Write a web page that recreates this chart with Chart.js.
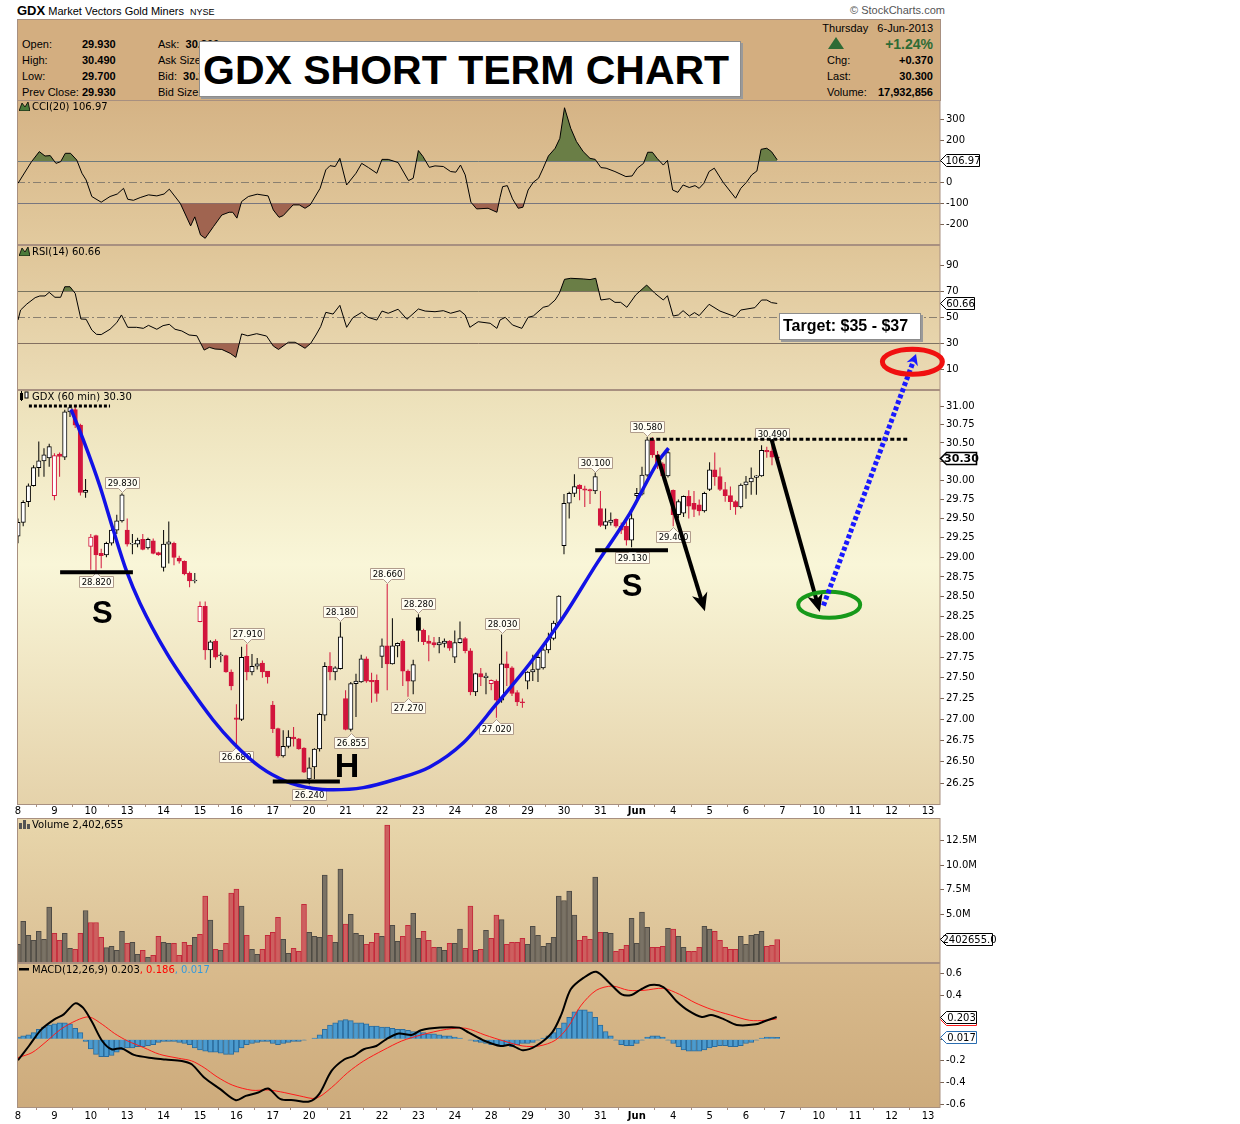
<!DOCTYPE html>
<html>
<head>
<meta charset="utf-8">
<title>GDX short term chart</title>
<script src="https://cdn.jsdelivr.net/npm/chart.js@4.4.1/dist/chart.umd.min.js"></script>
<style>
  body { margin: 0; width: 1240px; height: 1124px; position: relative; overflow: hidden; background: #fff; font-family: "Liberation Sans", Arial, sans-serif; }
  canvas { position: absolute; left: 0; }
  .t { position: absolute; white-space: nowrap; line-height: 13px; font-size: 11px; color: #000; }
  .b { font-weight: bold; }
  .rt { text-align: right; }
  .pl { position: absolute; left: 19px; font: 10px "DejaVu Sans", sans-serif; line-height: 12px; white-space: nowrap; }
  .pl svg { vertical-align: -1px; margin-right: 2px; }
  #hdr { position: absolute; left: 17px; top: 19px; width: 924px; height: 82px; box-sizing: border-box; background: #d3ae80; border: 1px solid #a89080; }
  .box { position: absolute; box-sizing: border-box; background: #fff; border: 1px solid #8c8c8c; box-shadow: 2px 2px 0 #9a9a9a; }
</style>
</head>
<body>
<div class="t" style="left:17px;top:4px;"><span class="b" style="font-size:13px">GDX</span> Market Vectors Gold Miners&nbsp; <span style="font-size:9px">NYSE</span></div>
<div class="t" style="left:850px;top:4px;color:#555">© StockCharts.com</div>
<div id="hdr"></div>

<canvas id="cci" width="1000" height="145" style="top:100px"></canvas>
<canvas id="rsi" width="1000" height="145" style="top:245px"></canvas>
<canvas id="price" width="1000" height="488" style="top:330px"></canvas>
<canvas id="vol" width="1000" height="145" style="top:818px"></canvas>
<canvas id="macd" width="1000" height="161" style="top:963px"></canvas>

<div class="t" style="left:22px;top:38px">Open:</div><div class="t b" style="left:82px;top:38px">29.930</div>
<div class="t" style="left:22px;top:54px">High:</div><div class="t b" style="left:82px;top:54px">30.490</div>
<div class="t" style="left:22px;top:70px">Low:</div><div class="t b" style="left:82px;top:70px">29.700</div>
<div class="t" style="left:22px;top:86px">Prev Close:</div><div class="t b" style="left:82px;top:86px">29.930</div>
<div class="t" style="left:158px;top:38px">Ask:&nbsp; <b>30.300</b></div>
<div class="t" style="left:158px;top:54px">Ask Size:</div>
<div class="t" style="left:158px;top:70px">Bid:&nbsp; <b>30.290</b></div>
<div class="t" style="left:158px;top:86px">Bid Size:</div>

<div class="t rt" style="left:780px;width:153px;top:22px">Thursday&nbsp;&nbsp; 6-Jun-2013</div>
<svg style="position:absolute;left:828px;top:37px" width="16" height="12"><polygon points="0,12 8,0 16,12" fill="#2e6b35"/></svg>
<div class="t rt b" style="left:800px;width:133px;top:37px;font-size:14px;line-height:15px;color:#2e6b35">+1.24%</div>
<div class="t" style="left:827px;top:54px">Chg:</div><div class="t rt b" style="left:850px;width:83px;top:54px">+0.370</div>
<div class="t" style="left:827px;top:70px">Last:</div><div class="t rt b" style="left:850px;width:83px;top:70px">30.300</div>
<div class="t" style="left:827px;top:86px">Volume:</div><div class="t rt b" style="left:850px;width:83px;top:86px">17,932,856</div>

<div class="box" style="left:199px;top:41px;width:542px;height:56px">
  <div style="position:absolute;left:3px;top:8px;font:bold 41px/41px 'Liberation Sans',Arial,sans-serif;white-space:nowrap">GDX SHORT TERM CHART</div>
</div>

<div class="pl" style="top:101px"><svg width="11" height="10"><polygon points="0,10 3,2 6,6 9,1 11,10" fill="#4a7a3a" stroke="#000" stroke-width="0.8"/></svg>CCI(20) 106.97</div>
<div class="pl" style="top:246px"><svg width="11" height="10"><polygon points="0,10 3,2 6,6 9,1 11,10" fill="#4a7a3a" stroke="#000" stroke-width="0.8"/></svg>RSI(14) 60.66</div>
<div class="pl" style="top:391px"><svg width="11" height="10"><rect x="1" y="2" width="3" height="7" fill="#000"/><rect x="6" y="1" width="3" height="6" fill="#fff" stroke="#000" stroke-width="1"/><line x1="2.5" y1="0" x2="2.5" y2="10" stroke="#000"/></svg>GDX (60 min) 30.30</div>
<div class="pl" style="top:819px"><svg width="11" height="10"><rect x="0" y="4" width="3" height="6" fill="#555"/><rect x="4" y="1" width="3" height="9" fill="#555"/><rect x="8" y="5" width="3" height="5" fill="#555"/></svg>Volume 2,402,655</div>
<div class="pl" style="top:964px"><svg width="11" height="10"><rect x="0" y="4" width="10" height="2.5" fill="#000"/></svg>MACD(12,26,9) 0.203<span style="color:#f00">, 0.186</span><span style="color:#3399dd">, 0.017</span></div>

<div class="box" style="left:779px;top:313px;width:142px;height:27px">
  <div style="position:absolute;left:3px;top:4px;font:bold 16px/16px 'Liberation Sans',Arial,sans-serif;white-space:nowrap">Target: $35 - $37</div>
</div>

<script>
// --- data (60 minute bars, 8 May - 6 Jun 2013) ---
const dayLabels = ['8', '9', '10', '13', '14', '15', '16', '17', '20', '21', '22', '23', '24',
  '28', '29', '30', '31', 'Jun', '4', '5', '6', '7', '10', '11', '12', '13'];

const opens = [
  29.27, 29.45, 29.72, 29.93, 30.17, 30.26, 30.30,
  29.80, 30.35, 30.31, 30.92, 30.95, 30.74, 29.84,
  29.14, 29.28, 29.05, 29.03, 29.18, 29.35, 29.47,
  29.35, 29.17, 29.17, 29.23, 29.12, 29.21, 29.06,
  28.87, 29.17, 29.18, 28.99, 28.95, 28.80, 28.70,
  28.19, 28.38, 27.84, 27.95, 27.77, 27.77, 27.57,
  27.02, 27.00, 27.76, 27.57, 27.64, 27.68, 27.58,
  27.17, 26.89, 26.57, 26.68, 26.79, 26.77, 26.66,
  26.30, 26.44, 26.65, 27.05, 27.64, 27.57, 27.61,
  27.25, 26.88, 27.43, 27.45, 27.73, 27.47, 27.47,
  27.76, 27.89, 27.67, 27.89, 27.95, 27.58, 27.46,
  28.24, 28.08, 27.95, 27.93, 27.90, 27.92, 27.95,
  27.75, 27.93, 27.98, 27.83, 27.33, 27.55, 27.50,
  27.43, 27.46, 27.23, 27.67, 27.62, 27.32, 27.21,
  27.46, 27.57, 27.60, 27.62, 27.84, 27.98, 28.17,
  29.15, 29.70, 29.83, 29.94, 29.89, 29.88, 29.86,
  29.63, 29.41, 29.45, 29.49, 29.40, 29.40, 29.22,
  29.80, 29.82, 30.07, 30.54, 30.34, 30.22, 30.06,
  29.87, 29.55, 29.57, 29.79, 29.70, 29.68, 29.60,
  29.88, 30.14, 30.05, 29.88, 29.80, 29.72, 29.65,
  29.94, 29.98, 30.04, 30.06, 30.40, 30.39, 30.31];
const highs = [
  29.50, 29.74, 29.96, 30.20, 30.52, 30.43, 30.49,
  30.36, 30.37, 30.95, 31.00, 31.00, 30.76, 30.02,
  29.30, 29.29, 29.11, 29.20, 29.40, 29.55, 29.83,
  29.50, 29.30, 29.25, 29.30, 29.25, 29.24, 29.07,
  29.35, 29.46, 29.20, 29.02, 28.96, 28.82, 28.80,
  28.44, 28.44, 27.96, 27.97, 27.81, 27.78, 27.60,
  27.18, 27.88, 27.91, 27.79, 27.74, 27.71, 27.58,
  27.22, 26.90, 26.87, 26.87, 26.91, 26.78, 26.67,
  26.55, 26.66, 27.08, 27.69, 27.81, 27.64, 28.18,
  27.35, 27.45, 27.55, 27.78, 27.76, 27.56, 27.54,
  27.98, 28.66, 28.23, 27.93, 27.97, 27.60, 27.72,
  28.28, 28.10, 28.02, 28.00, 28.00, 27.98, 27.96,
  28.08, 28.19, 28.00, 27.86, 27.56, 27.62, 27.56,
  27.48, 27.48, 28.03, 27.82, 27.64, 27.35, 27.25,
  27.58, 27.78, 27.82, 27.86, 28.05, 28.20, 28.52,
  29.82, 29.85, 30.08, 29.95, 29.93, 29.89, 30.10,
  29.86, 29.63, 29.58, 29.50, 29.45, 29.46, 29.63,
  29.90, 30.18, 30.58, 30.58, 30.39, 30.24, 30.40,
  29.88, 29.75, 29.80, 29.87, 29.86, 29.75, 29.85,
  30.24, 30.37, 30.17, 29.98, 29.92, 29.74, 29.96,
  30.06, 30.17, 30.07, 30.47, 30.45, 30.49, 30.33];
const lows = [
  29.18, 29.40, 29.65, 29.92, 30.05, 30.05, 30.18,
  29.74, 30.05, 30.27, 30.85, 30.70, 29.80, 29.77,
  28.84, 28.82, 28.86, 29.00, 29.15, 29.30, 29.45,
  29.14, 29.04, 29.13, 29.09, 29.10, 29.04, 29.02,
  28.82, 28.92, 28.90, 28.92, 28.77, 28.62, 28.67,
  28.18, 27.72, 27.62, 27.72, 27.69, 27.56, 27.35,
  26.68, 26.98, 27.47, 27.53, 27.60, 27.50, 27.43,
  26.84, 26.55, 26.55, 26.66, 26.68, 26.64, 26.37,
  26.24, 26.30, 26.62, 26.98, 27.47, 27.47, 27.60,
  26.87, 26.855, 27.03, 27.44, 27.44, 27.20, 27.21,
  27.62, 27.35, 27.66, 27.75, 27.40, 27.27, 27.30,
  27.94, 27.90, 27.70, 27.87, 27.80, 27.87, 27.83,
  27.68, 27.92, 27.80, 27.29, 27.28, 27.40, 27.30,
  27.35, 27.02, 27.20, 27.40, 27.28, 27.16, 27.14,
  27.36, 27.46, 27.45, 27.60, 27.80, 27.96, 28.15,
  29.04, 29.50, 29.78, 29.74, 29.65, 29.69, 29.82,
  29.39, 29.36, 29.41, 29.38, 29.30, 29.15, 29.13,
  29.74, 29.80, 30.05, 30.30, 30.15, 30.04, 30.04,
  29.40, 29.50, 29.52, 29.50, 29.52, 29.54, 29.58,
  29.86, 29.93, 29.86, 29.72, 29.61, 29.55, 29.63,
  29.76, 29.81, 29.81, 30.05, 30.30, 30.20, 30.25];
const closes = [
  29.45, 29.71, 29.93, 30.17, 30.26, 30.34, 30.45,
  30.33, 30.32, 30.92, 30.98, 30.74, 29.84, 29.87,
  29.26, 29.03, 29.02, 29.18, 29.35, 29.47, 29.81,
  29.17, 29.18, 29.22, 29.10, 29.23, 29.05, 29.03,
  29.17, 29.20, 29.00, 28.95, 28.79, 28.70, 28.71,
  28.38, 27.84, 27.94, 27.75, 27.78, 27.57, 27.40,
  27.00, 27.75, 27.57, 27.64, 27.67, 27.57, 27.51,
  26.89, 26.57, 26.68, 26.79, 26.77, 26.65, 26.38,
  26.43, 26.65, 27.06, 27.64, 27.57, 27.62, 28.00,
  26.88, 27.43, 27.46, 27.73, 27.46, 27.45, 27.31,
  27.89, 27.67, 27.89, 27.92, 27.58, 27.46, 27.66,
  28.08, 27.94, 27.92, 27.90, 27.93, 27.95, 27.86,
  27.93, 27.98, 27.83, 27.33, 27.55, 27.51, 27.52,
  27.47, 27.23, 27.67, 27.62, 27.31, 27.21, 27.20,
  27.57, 27.60, 27.75, 27.84, 27.98, 28.17, 28.51,
  29.70, 29.83, 29.92, 29.89, 29.87, 29.86, 30.05,
  29.41, 29.46, 29.48, 29.40, 29.35, 29.22, 29.50,
  29.83, 30.07, 30.54, 30.34, 30.20, 30.06, 30.37,
  29.55, 29.72, 29.79, 29.66, 29.62, 29.60, 29.83,
  30.14, 30.05, 29.88, 29.80, 29.72, 29.65, 29.94,
  29.98, 30.03, 30.06, 30.40, 30.38, 30.31, 30.30];

// volume in millions of shares
const volumes = [
  1.91, 4.26, 2.83, 2.32, 3.24, 2.42, 5.70,
  3.04, 2.32, 3.04, 1.50, 1.40, 3.04, 5.36,
  4.13, 4.13, 2.63, 1.57, 1.71, 1.30, 3.24,
  2.01, 2.12, 0.89, 1.30, 0.58, 0.79, 2.73,
  2.12, 2.01, 2.01, 0.79, 2.12, 1.81, 2.63,
  2.93, 6.82, 4.37, 1.40, 1.30, 2.01, 7.13,
  7.54, 5.80, 2.83, 1.40, 0.89, 1.40, 2.83,
  3.14, 4.67, 2.42, 0.99, 1.50, 1.20, 6.00,
  3.14, 2.73, 2.63, 8.97, 2.83, 2.12, 9.58,
  3.96, 4.98, 3.04, 2.83, 1.91, 2.12, 3.04,
  2.73, 14.08, 3.85, 2.22, 2.73, 3.85, 5.08,
  2.53, 3.24, 2.32, 1.60, 1.60, 1.30, 2.01,
  2.01, 3.45, 1.50, 5.80, 1.30, 1.40, 3.34,
  2.53, 4.88, 4.43, 1.91, 2.12, 2.12, 2.53,
  1.91, 3.75, 2.83, 1.71, 2.01, 2.63, 6.82,
  6.38, 7.33, 4.88, 2.32, 2.73, 2.42, 8.76,
  3.14, 3.14, 3.04, 1.20, 1.40, 1.81, 4.57,
  2.01, 5.19, 3.65, 1.60, 1.60, 1.71, 3.55,
  3.45, 2.73, 1.60, 1.20, 1.20, 1.60, 3.75,
  3.45, 3.24, 2.32, 1.60, 1.40, 1.40, 2.73,
  1.91, 2.83, 2.93, 3.24, 1.71, 1.81, 2.402655];

// indicator lines: [bar index, value]
const cciPts = [[0, -5], [2.6, 98], [4.1, 146], [5.2, 125], [6.2, 127], [7.3, 90], [8.2, 98], [9.1, 138],
  [10.1, 138], [11.3, 106], [12.3, 43], [13.1, 11], [14.2, -68], [16.0, -95], [17.7, -68], [19.1, -56],
  [20.3, -29], [21.1, -81], [22.2, -86], [23.5, -73], [25.1, -60], [26.7, -65], [28.1, -56], [29.1, -33],
  [31.2, -100], [33.2, -208], [34.0, -165], [35.1, -251], [36.0, -267], [37.6, -211], [39.2, -156],
  [40.6, -143], [41.3, -143], [42.1, -171], [43.0, -92], [44.3, -68], [46.0, -57], [48.1, -65], [49.1, -132],
  [50.2, -167], [51.0, -159], [52.9, -108], [54.1, -108], [55.2, -124], [56.2, -108], [58.1, -29], [59.2, 59],
  [60.0, 79], [61.0, 75], [61.9, 114], [63.2, -13], [65.0, 43], [66.1, 90], [67.4, 70], [69.0, 43],
  [70.0, 109], [71.2, 109], [73.1, 94], [75.1, 8], [76.0, 19], [77.0, 151], [77.9, 122], [79.1, 71],
  [80.2, 78], [81.8, 75], [83.2, 51], [84.2, 48], [85.1, 82], [86.0, 35], [87.1, -95], [88.2, -127],
  [90.4, -124], [92.1, -143], [92.7, -72], [93.2, -21], [94.1, -16], [95.1, -79], [96.2, -124], [97.1, -119],
  [98.1, -37], [99.1, 0], [100.1, 19], [101.0, 67], [102.0, 125], [103.3, 162], [104.2, 209], [105.1, 355],
  [106.3, 257], [107.4, 194], [108.7, 146], [110.0, 114], [111.0, 109], [112.1, 70], [113.1, 67],
  [114.8, 51], [116.9, 27], [118.1, 30], [119.1, 67], [120.3, 90], [121.1, 143], [122.0, 143], [122.9, 114],
  [124.1, 82], [124.9, 104], [125.9, -37], [126.9, -48], [127.9, -13], [129.1, -25], [130.2, -16],
  [131.0, -29], [131.9, -5], [132.9, 51], [133.9, 67], [135.6, 0], [138.0, -76], [139.0, -29], [140.1, 0],
  [141.1, 35], [142.1, 54], [142.9, 157], [144.0, 162], [144.9, 146], [146.0, 106.97]];

const rsiPts = [[0, 47.9], [0.5, 55.6], [1.7, 60.2], [3.3, 65.1], [4.2, 66.4], [5.2, 66.4], [6.0, 69.2],
  [7.1, 65.4], [8.2, 65.4], [9.0, 73.5], [10.0, 73.5], [11.0, 68.4], [12.1, 48.7], [13.1, 48.5], [14.2, 40.2],
  [15.1, 36.9], [16.0, 36.7], [17.7, 40.8], [19.0, 45.9], [19.9, 51.8], [21.1, 42.3], [22.8, 42.3],
  [24.1, 41.5], [25.1, 43.8], [26.7, 40.8], [27.9, 43.6], [29.1, 44.6], [30.2, 40.8], [31.5, 39.5],
  [32.9, 36.4], [34.4, 35.8], [35.8, 24.8], [36.8, 26.9], [37.9, 25.6], [39.2, 25.3], [40.8, 22.3],
  [41.9, 19.2], [43.0, 37.2], [44.2, 35.8], [45.9, 37.4], [47.8, 35.6], [49.1, 27.9], [50.1, 25.3],
  [52.0, 30.8], [53.3, 30.8], [55.2, 26.2], [56.3, 30.0], [57.3, 36.4], [58.2, 42.8], [59.2, 53.8],
  [60.6, 52.5], [61.9, 59.2], [63.2, 42.3], [64.4, 49.7], [66.1, 53.8], [67.3, 50.0], [69.0, 47.9],
  [70.0, 54.8], [71.2, 53.1], [73.1, 56.2], [74.8, 48.5], [77.0, 56.4], [78.3, 54.8], [80.2, 54.3],
  [81.8, 55.1], [83.2, 53.1], [85.0, 55.1], [86.0, 51.8], [86.9, 42.3], [88.5, 46.6], [90.8, 45.4],
  [92.1, 41.5], [92.7, 47.9], [93.7, 50.0], [95.1, 44.1], [96.9, 41.5], [98.1, 50.0], [99.1, 51.0],
  [101.0, 57.7], [102.0, 58.7], [103.3, 63.3], [104.1, 68.4], [105.1, 79.2], [106.3, 80.0], [108.7, 79.5],
  [110.0, 79.0], [111.1, 80.0], [112.1, 63.3], [113.8, 64.3], [114.8, 61.5], [115.9, 61.5], [117.1, 57.7],
  [118.8, 67.2], [120.9, 74.8], [122.5, 68.4], [124.1, 63.3], [124.9, 66.6], [126.0, 51.0], [127.0, 51.8],
  [127.9, 55.1], [129.1, 51.0], [130.1, 53.6], [131.0, 51.3], [132.9, 60.0], [135.0, 54.8], [137.9, 50.5],
  [139.0, 55.6], [141.7, 57.4], [143.0, 63.3], [144.0, 63.3], [144.9, 61.3], [146.0, 60.66]];

const macdPts = [[0, -0.194], [2.1, -0.063], [4.5, 0.090], [7.0, 0.182], [8.8, 0.228], [11.0, 0.329],
  [12.5, 0.289], [14.3, 0.152], [16.2, -0.017], [18.0, -0.093], [19.9, -0.084], [22.3, -0.145],
  [26.0, -0.176], [28.4, -0.188], [31.5, -0.200], [33.4, -0.231], [35.8, -0.353], [38.9, -0.460],
  [41.9, -0.561], [43.8, -0.522], [46.2, -0.491], [48.1, -0.454], [50.5, -0.552], [53.0, -0.561],
  [56.0, -0.574], [57.9, -0.506], [60.3, -0.292], [62.8, -0.185], [64.6, -0.154], [66.5, -0.093],
  [68.9, -0.063], [70.8, -0.001], [73.2, 0.051], [75.7, 0.038], [77.5, 0.081], [81.2, 0.106], [84.9, 0.106],
  [86.7, 0.060], [89.8, -0.017], [92.8, -0.063], [94.7, -0.053], [97.1, -0.102], [99.6, -0.063],
  [102.7, 0.060], [104.5, 0.228], [106.3, 0.458], [108.8, 0.565], [111.2, 0.620], [113.7, 0.519],
  [116.1, 0.412], [118.0, 0.406], [119.8, 0.458], [121.7, 0.498], [124.1, 0.479], [126.6, 0.351],
  [129.0, 0.259], [131.5, 0.204], [133.3, 0.222], [135.8, 0.182], [138.2, 0.130], [141.9, 0.136],
  [143.7, 0.167], [145.9, 0.203]];

const signalPts = [[0, -0.170], [2.7, -0.124], [5.2, -0.032], [8.2, 0.090], [11.3, 0.173], [13.7, 0.204],
  [16.2, 0.136], [18.6, 0.051], [21.1, -0.017], [24.2, -0.078], [27.2, -0.139], [30.9, -0.176],
  [33.4, -0.200], [35.8, -0.262], [38.3, -0.347], [41.3, -0.424], [45.0, -0.470], [48.1, -0.467],
  [51.2, -0.491], [54.2, -0.522], [57.3, -0.543], [60.3, -0.445], [63.4, -0.308], [66.5, -0.200],
  [70.2, -0.102], [73.8, -0.017], [77.5, 0.038], [82.4, 0.090], [86.1, 0.100], [89.8, 0.038], [93.4, -0.017],
  [97.1, -0.063], [100.2, -0.063], [103.3, -0.011], [105.7, 0.106], [108.2, 0.305], [111.2, 0.449],
  [114.3, 0.488], [117.4, 0.449], [120.4, 0.449], [124.1, 0.467], [127.2, 0.412], [130.2, 0.335],
  [133.3, 0.274], [137.0, 0.222], [140.7, 0.173], [143.7, 0.173], [145.9, 0.186]];

const histVals = [
  0.02, 0.03, 0.04, 0.06, 0.09, 0.11, 0.13,
  0.14, 0.15, 0.15, 0.14, 0.10, 0.06, -0.02,
  -0.09, -0.14, -0.16, -0.16, -0.15, -0.12, -0.10,
  -0.08, -0.08, -0.07, -0.07, -0.06, -0.05, -0.03,
  -0.02, -0.02, -0.02, -0.03, -0.04, -0.05, -0.08,
  -0.10, -0.11, -0.12, -0.12, -0.13, -0.14, -0.14,
  -0.12, -0.08, -0.05, -0.04, -0.03, -0.02, -0.02,
  -0.04, -0.05, -0.04, -0.03, -0.02, -0.02, -0.01,
  0.00, 0.01, 0.04, 0.09, 0.13, 0.15, 0.17,
  0.18, 0.17, 0.15, 0.15, 0.14, 0.12, 0.12,
  0.11, 0.11, 0.10, 0.09, 0.09, 0.08, 0.07,
  0.07, 0.06, 0.05, 0.05, 0.04, 0.03, 0.03,
  0.02, 0.01, 0.00, -0.01, -0.02, -0.03, -0.04,
  -0.05, -0.05, -0.06, -0.06, -0.07, -0.05, -0.04,
  -0.04, -0.03, -0.01, 0.01, 0.03, 0.06, 0.10,
  0.15, 0.20, 0.25, 0.27, 0.27, 0.25, 0.20,
  0.13, 0.07, 0.03, -0.01, -0.05, -0.06, -0.06,
  -0.04, -0.01, 0.02, 0.03, 0.03, 0.02, -0.01,
  -0.04, -0.07, -0.10, -0.11, -0.11, -0.11, -0.10,
  -0.08, -0.07, -0.06, -0.06, -0.07, -0.07, -0.06,
  -0.04, -0.03, -0.01, 0.01, 0.02, 0.02, 0.017];

const lastSignal = 0.186;

// axis tick values
const priceTicks = [31.00, 30.75, 30.50, 30.25, 30.00, 29.75, 29.50, 29.25, 29.00, 28.75, 28.50,
  28.25, 28.00, 27.75, 27.50, 27.25, 27.00, 26.75, 26.50, 26.25];
const cciTicks = [300, 200, 100, 0, -100, -200];
const rsiTicks = [90, 70, 50, 30, 10];
const volTicks = [12.5, 10, 7.5, 5, 2.5];
const macdTicks = [0.6, 0.4, 0.2, 0, -0.2, -0.4, -0.6];

// hand drawn markup, in [bar index, price]
const hiLoLabels = [[20, 1], [15, -1], [44, 1], [42, -1], [56, -1], [62, 1], [64, -1], [71, 1], [77, 1],
  [75, -1], [93, 1], [92, -1], [111, 1], [118, -1], [121, 1], [126, -1], [145, 1]];
const cupCurve = [[10.2, 30.955], [12.56, 30.54], [15.77, 29.92], [18.33, 29.35], [20.9, 28.82],
  [23.46, 28.42], [28.6, 27.80], [32.44, 27.43], [37.56, 26.99], [41.4, 26.72], [46.54, 26.44],
  [51.67, 26.27], [56.79, 26.19], [60.63, 26.175], [66.4, 26.20], [72.8, 26.30], [79.2, 26.44],
  [85.6, 26.72], [92.1, 27.19], [98.5, 27.68], [104.9, 28.25], [111.3, 28.92], [117.7, 29.57],
  [123.1, 30.25], [125.1, 30.43]];
const necklines = [[8.1, 22.1, 28.81], [49.0, 61.9, 26.27], [111.0, 125.0, 29.09]];
const letters = [['S', 16.2, 28.28, 31], ['H', 63.3, 26.43, 34], ['S', 118.1, 28.62, 31]];
const peakLine = [2.1, 17.7, 31.0];
const resistLine = [121.5, 171.0, 30.55];
const downArrows = [[122.9, 30.34, 132.1, 28.32], [144.9, 30.55, 154.2, 28.31]];
const upArrow = [154.9, 28.39, 172.7, 31.72];
const supportRing = [156.0, 28.40];
const targetRing = [172.0, 31.61];

// --- drawing ---
const XMIN = -0.19, XMAX = 177.31;
const RED = '#d2143c';
const GREEN_FILL = 'rgb(106,126,70)';
const BROWN_FILL = 'rgb(160,100,80)';
const BORDER = '#a89080';
const dayStarts = dayLabels.map((_, k) => k * 7);

const candleLine = closes.map((c, i) => (i > 0 && c < closes[i - 1]) ? RED : '#000');
const candleFill = closes.map((c, i) => c >= opens[i] ? '#fff' : candleLine[i]);
const volDown = closes.map((c, i) => i > 0 && c < closes[i - 1]);

function xAxis(show, h, pad) {
  return {
    type: 'linear', min: XMIN, max: XMAX, offset: false, display: show,
    grid: { display: true, drawOnChartArea: false, drawTicks: true, tickLength: 2, color: BORDER },
    border: { display: false },
    ticks: {
      autoSkip: false, maxRotation: 0, padding: pad, color: '#000',
      font: ctx => ({ family: 'DejaVu Sans', size: 10, weight: dayLabels[ctx.index] === 'Jun' ? 'bold' : 'normal' }),
      callback: v => dayLabels[Math.round(v / 7)]
    },
    afterBuildTicks: s => { s.ticks = dayStarts.map(v => ({ value: v })); },
    afterFit: s => { s.height = h; s.paddingLeft = 0; s.paddingRight = 0; }
  };
}

function yAxis(min, max, ticks, fmt, type) {
  return {
    type: type || 'linear', position: 'right', min, max,
    grid: { display: true, drawOnChartArea: false, drawTicks: true, tickLength: 4, color: '#7a6454' },
    border: { display: false },
    ticks: { autoSkip: false, padding: 2, color: '#000', font: { family: 'DejaVu Sans', size: 10 }, callback: fmt },
    afterBuildTicks: s => { s.ticks = ticks.map(v => ({ value: v })); },
    afterFit: s => { s.width = 60; s.paddingTop = 0; s.paddingBottom = 0; }
  };
}

const panelBg = {
  id: 'panelBg',
  beforeDraw(chart, args, opts) {
    const { ctx, chartArea: a } = chart;
    const g = ctx.createLinearGradient(0, a.top, 0, a.bottom);
    opts.stops.forEach(([o, c]) => g.addColorStop(o, c));
    ctx.save();
    ctx.fillStyle = g;
    ctx.fillRect(a.left, a.top, a.right - a.left, a.bottom - a.top);
    ctx.restore();
  },
  afterDatasetsDraw(chart) {
    const { ctx, chartArea: a } = chart;
    ctx.save();
    ctx.strokeStyle = BORDER; ctx.lineWidth = 1;
    ctx.strokeRect(a.left + 0.5, a.top + 0.5, a.right - a.left - 0.5, a.bottom - a.top - 1);
    ctx.restore();
  }
};

const refLines = {
  id: 'refLines',
  beforeDatasetsDraw(chart, args, opts) {
    if (!opts.lines) return;
    const { ctx, chartArea: a, scales: { y } } = chart;
    ctx.save();
    opts.lines.forEach(l => {
      const py = Math.round(y.getPixelForValue(l.v)) + 0.5;
      ctx.strokeStyle = l.color; ctx.lineWidth = 1; ctx.setLineDash(l.dash || []);
      ctx.beginPath(); ctx.moveTo(a.left, py); ctx.lineTo(a.right, py); ctx.stroke();
    });
    ctx.restore();
  }
};

const tags = {
  id: 'tags',
  afterDraw(chart, args, opts) {
    if (!opts.items) return;
    const { ctx, chartArea: a, scales: { y } } = chart;
    ctx.save();
    opts.items.forEach(t => {
      const py = Math.round(y.getPixelForValue(t.v)) + 0.5;
      const x0 = a.right, w = t.w, h = 12;
      ctx.beginPath();
      ctx.moveTo(x0 + 0.5, py);
      ctx.lineTo(x0 + 6.5, py - h / 2);
      ctx.lineTo(x0 + 6.5 + w, py - h / 2);
      ctx.lineTo(x0 + 6.5 + w, py + h / 2);
      ctx.lineTo(x0 + 6.5, py + h / 2);
      ctx.closePath();
      ctx.fillStyle = '#fff'; ctx.fill();
      ctx.strokeStyle = t.color; ctx.lineWidth = t.bold ? 1.6 : 1; ctx.stroke();
      ctx.fillStyle = '#000';
      ctx.font = (t.bold ? 'bold 11px' : '10px') + ' "DejaVu Sans"';
      ctx.textAlign = 'center'; ctx.textBaseline = 'middle';
      ctx.fillText(t.text, x0 + 6.5 + w / 2, py + 0.5);
    });
    ctx.restore();
  }
};

function arrow(ctx, x1, y1, x2, y2, color, lw, dash, len, half) {
  const an = Math.atan2(y2 - y1, x2 - x1), c = Math.cos(an), s = Math.sin(an);
  const bx = x2 - len * c, by = y2 - len * s;
  ctx.save();
  ctx.strokeStyle = color; ctx.fillStyle = color; ctx.lineWidth = lw; ctx.setLineDash(dash);
  ctx.beginPath(); ctx.moveTo(x1, y1); ctx.lineTo(x2 - len * 0.6 * c, y2 - len * 0.6 * s); ctx.stroke();
  ctx.setLineDash([]);
  ctx.beginPath(); ctx.moveTo(x2, y2);
  ctx.lineTo(bx - half * s, by + half * c);
  ctx.lineTo(x2 - len * 0.7 * c, y2 - len * 0.7 * s);
  ctx.lineTo(bx + half * s, by - half * c);
  ctx.closePath(); ctx.fill();
  ctx.restore();
}

const hiLo = {
  id: 'hiLo',
  beforeDatasetsDraw(chart) {
    const { ctx, scales: { x, y } } = chart;
    ctx.save();
    ctx.font = '8.5px "DejaVu Sans"';
    ctx.textAlign = 'center'; ctx.textBaseline = 'middle';
    hiLoLabels.forEach(([i, side]) => {
      const v = side > 0 ? highs[i] : lows[i];
      const txt = v.toFixed(3);
      const cx = Math.round(x.getPixelForValue(i)) + 0.5;
      const py = y.getPixelForValue(v);
      const w = Math.round(ctx.measureText(txt).width) + 4, h = 11;
      const top = Math.round(side > 0 ? py - 5 - h : py + 5) + 0.5;
      const l = cx - w / 2, r = cx + w / 2, b = top + h;
      ctx.beginPath();
      if (side > 0) {
        ctx.moveTo(l, top); ctx.lineTo(r, top); ctx.lineTo(r, b); ctx.lineTo(cx + 4, b);
        ctx.lineTo(cx, b + 4); ctx.lineTo(cx - 4, b); ctx.lineTo(l, b);
      } else {
        ctx.moveTo(l, top); ctx.lineTo(cx - 4, top); ctx.lineTo(cx, top - 4); ctx.lineTo(cx + 4, top);
        ctx.lineTo(r, top); ctx.lineTo(r, b); ctx.lineTo(l, b);
      }
      ctx.closePath();
      ctx.fillStyle = '#fffdf2'; ctx.fill();
      ctx.strokeStyle = '#b09c8c'; ctx.lineWidth = 1; ctx.stroke();
      ctx.fillStyle = '#000';
      ctx.fillText(txt, cx, top + h / 2 + 0.5);
    });
    ctx.restore();
  }
};

const markup = {
  id: 'markup',
  afterDraw(chart) {
    const { ctx, scales: { x, y } } = chart;
    const X = v => x.getPixelForValue(v), Y = v => y.getPixelForValue(v);
    ctx.save();
    ctx.strokeStyle = '#000';
    [[peakLine, [3, 2]], [resistLine, [4, 2.5]]].forEach(([l, dash]) => {
      ctx.setLineDash(dash); ctx.lineWidth = 3;
      ctx.beginPath(); ctx.moveTo(X(l[0]), Y(l[2])); ctx.lineTo(X(l[1]), Y(l[2])); ctx.stroke();
    });
    ctx.setLineDash([]);
    necklines.forEach(([a, b, p]) => {
      ctx.lineWidth = 4;
      ctx.beginPath(); ctx.moveTo(X(a), Y(p)); ctx.lineTo(X(b), Y(p)); ctx.stroke();
    });
    ctx.fillStyle = '#000'; ctx.textAlign = 'center'; ctx.textBaseline = 'middle';
    letters.forEach(([t, i, p, size]) => {
      ctx.font = 'bold ' + size + 'px "Liberation Sans"';
      ctx.fillText(t, X(i), Y(p));
    });
    downArrows.forEach(a => arrow(ctx, X(a[0]), Y(a[1]), X(a[2]), Y(a[3]), '#000', 4, [], 18, 8));
    ctx.strokeStyle = '#17991a'; ctx.lineWidth = 4;
    ctx.beginPath(); ctx.ellipse(X(supportRing[0]), Y(supportRing[1]), 31, 13, 0, 0, Math.PI * 2); ctx.stroke();
    arrow(ctx, X(upArrow[0]), Y(upArrow[1]), X(upArrow[2]), Y(upArrow[3]), '#1a1aff', 5, [4, 2.5], 11, 6);
    ctx.strokeStyle = '#f01010'; ctx.lineWidth = 5;
    ctx.beginPath(); ctx.ellipse(X(targetRing[0]), Y(targetRing[1]), 30, 12.5, 0, 0, Math.PI * 2); ctx.stroke();
    ctx.restore();
  }
};

function baseOptions(yCfg, showX, xh, xpad, padTop, plug) {
  return {
    responsive: false, maintainAspectRatio: false, animation: false, devicePixelRatio: 1, events: [],
    layout: { padding: { left: 17, right: 0, top: padTop, bottom: 0 } },
    plugins: Object.assign({ legend: { display: false }, tooltip: { enabled: false } }, plug),
    scales: { x: xAxis(showX, xh, xpad), y: yCfg }
  };
}

const pts = arr => arr.map(([x, y]) => ({ x, y }));
const clear = 'rgba(0,0,0,0)';

// CCI
new Chart(document.getElementById('cci'), {
  type: 'line',
  data: {
    datasets: [
      { data: pts(cciPts), borderColor: '#000', borderWidth: 1, pointRadius: 0, tension: 0,
        fill: { target: { value: 100 }, above: GREEN_FILL, below: clear } },
      { data: pts(cciPts), borderColor: clear, borderWidth: 1, pointRadius: 0, tension: 0,
        fill: { target: { value: -100 }, above: clear, below: BROWN_FILL } }
    ]
  },
  options: baseOptions(yAxis(-299, 392, cciTicks, v => String(v)), false, 0, 0, 0, {
    panelBg: { stops: [[0, '#d5b385'], [1, '#e2ca9e']] },
    refLines: { lines: [{ v: 100, color: '#6f7a8a' }, { v: -100, color: '#6f7a8a' }, { v: 0, color: '#8a8070', dash: [8, 3, 2, 3] }] },
    tags: { items: [{ v: 106.97, text: '106.97', color: '#000', w: 33 }] }
  }),
  plugins: [panelBg, refLines, tags]
});

// RSI
new Chart(document.getElementById('rsi'), {
  type: 'line',
  data: {
    datasets: [
      { data: pts(rsiPts), borderColor: '#000', borderWidth: 1, pointRadius: 0, tension: 0,
        fill: { target: { value: 70 }, above: GREEN_FILL, below: clear } },
      { data: pts(rsiPts), borderColor: clear, borderWidth: 1, pointRadius: 0, tension: 0,
        fill: { target: { value: 30 }, above: clear, below: BROWN_FILL } }
    ]
  },
  options: baseOptions(yAxis(-5.9, 105.6, rsiTicks, v => String(v)), false, 0, 0, 0, {
    panelBg: { stops: [[0, '#dfc598'], [1, '#ebdcb6']] },
    refLines: { lines: [{ v: 70, color: '#7d7264' }, { v: 30, color: '#7d7264' }, { v: 50, color: '#8a8070', dash: [8, 3, 2, 3] }] },
    tags: { items: [{ v: 60.66, text: '60.66', color: '#000', w: 28 }] }
  }),
  plugins: [panelBg, refLines, tags]
});

// Price candles
new Chart(document.getElementById('price'), {
  type: 'bar',
  data: {
    datasets: [
      { type: 'line', data: pts(cupCurve), borderColor: '#1212e6', borderWidth: 3.5, pointRadius: 0,
        cubicInterpolationMode: 'monotone', order: 0 },
      { data: opens.map((o, i) => ({ x: i, y: [o, closes[i]] })), barThickness: 4.4, grouped: false,
        backgroundColor: candleFill, borderColor: candleLine, borderWidth: 1, borderSkipped: false, order: 1 },
      { data: lows.map((l, i) => ({ x: i, y: [l, highs[i]] })), barThickness: 1, grouped: false,
        backgroundColor: candleLine, borderWidth: 0, inflateAmount: 0, order: 2 }
    ]
  },
  options: baseOptions(yAxis(26.0, 31.22, priceTicks, v => Number(v).toFixed(2), 'logarithmic'), true, 13, -2, 60, {
    panelBg: { stops: [[0, '#ece0b9'], [0.42, '#f9f6d8'], [1, '#e5d2aa']] },
    tags: { items: [{ v: 30.30, text: '30.30', color: '#000', w: 30, bold: true }] }
  }),
  plugins: [panelBg, hiLo, markup, tags]
});

// Volume
new Chart(document.getElementById('vol'), {
  type: 'bar',
  data: {
    datasets: [{
      data: volumes.map((v, i) => ({ x: i, y: v })), barThickness: 5,
      backgroundColor: volDown.map(d => d ? '#cd5f5f' : '#7a7265'),
      borderColor: volDown.map(d => d ? '#c4283a' : '#4e4a44'), borderWidth: 1
    }]
  },
  options: baseOptions(yAxis(0, 14.8, volTicks, v => Number(v).toFixed(1) + 'M'), false, 0, 0, 0, {
    panelBg: { stops: [[0, '#e8d6ab'], [1, '#dbc095']] },
    tags: { items: [{ v: volumes[volumes.length - 1], text: (volumes[volumes.length - 1] * 1e6).toFixed(1), color: '#000', w: 46 }] }
  }),
  plugins: [panelBg, tags]
});

// MACD
new Chart(document.getElementById('macd'), {
  type: 'bar',
  data: {
    datasets: [
      { type: 'line', data: pts(macdPts), borderColor: '#000', borderWidth: 2, pointRadius: 0, tension: 0.3, order: 0 },
      { type: 'line', data: pts(signalPts), borderColor: '#ff1a1a', borderWidth: 1, pointRadius: 0, tension: 0.3, order: 1 },
      { data: histVals.map((v, i) => ({ x: i, y: v })), barThickness: 5, grouped: false,
        backgroundColor: '#4b9bcf', borderColor: '#2c6c9c', borderWidth: 1, order: 2 }
    ]
  },
  options: baseOptions(yAxis(-0.633, 0.70, macdTicks, v => String(Math.round(v * 10) / 10)), true, 16, 0, 0, {
    panelBg: { stops: [[0, '#d9bb8d'], [1, '#cdab7c']] },
    tags: { items: [
      { v: lastSignal, text: lastSignal.toFixed(3), color: '#ff1a1a', w: 30 },
      { v: macdPts[macdPts.length - 1][1], text: macdPts[macdPts.length - 1][1].toFixed(3), color: '#000', w: 30 },
      { v: histVals[histVals.length - 1], text: histVals[histVals.length - 1].toFixed(3), color: '#2a6db0', w: 30 }
    ] }
  }),
  plugins: [panelBg, tags]
});
</script>
</body>
</html>
